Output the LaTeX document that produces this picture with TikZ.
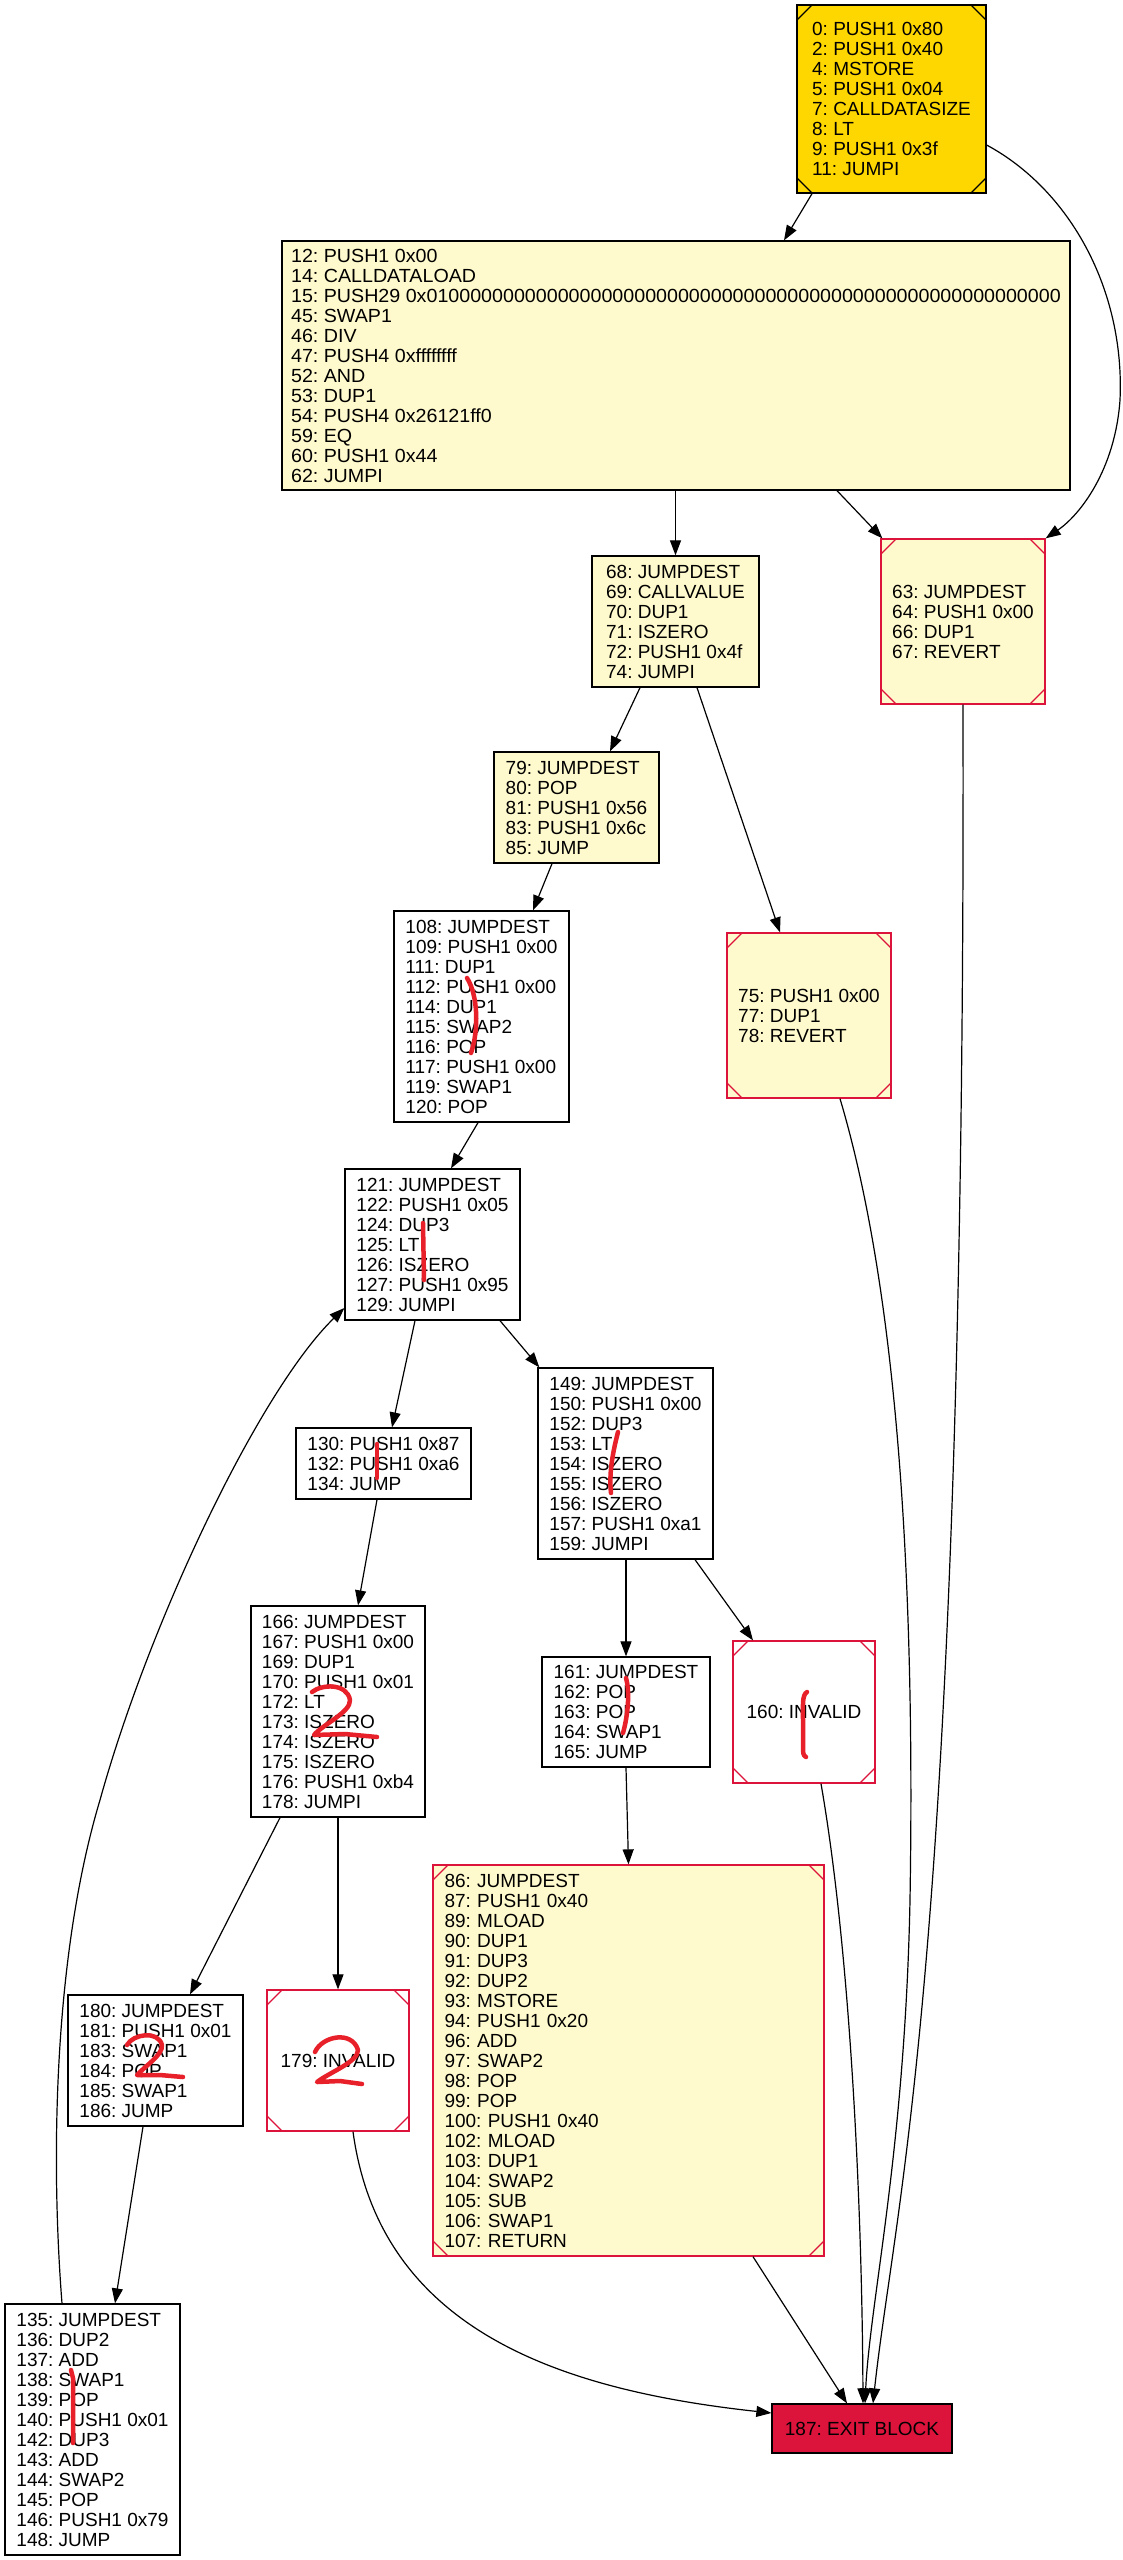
\documentclass[tikz,border=0pt]{standalone}
\usepackage{fontspec}
\setmainfont{Liberation Sans}
\usetikzlibrary{arrows.meta}
\definecolor{lemon}{HTML}{FFFACD}
\definecolor{goldfill}{HTML}{FFD700}
\definecolor{crim}{HTML}{DC143C}
\definecolor{pen}{HTML}{E8202A}
\frenchspacing

\begin{document}
\begin{tikzpicture}[x=1pt,y=-1pt,
  blk/.style={draw=black, line width=1.3pt, inner xsep=0pt, inner ysep=0pt,
              align=left, font=\fontsize{19}{20}\selectfont},
  wbox/.style={blk, fill=white},
  ybox/.style={blk, fill=lemon},
  msq/.style={blk, draw=#1, path picture={
     \draw[#1, line width=1.3pt]
       ([yshift=-15pt]path picture bounding box.north west) -- ([xshift=15pt]path picture bounding box.north west)
       ([xshift=-15pt]path picture bounding box.north east) -- ([yshift=-15pt]path picture bounding box.north east)
       ([yshift=15pt]path picture bounding box.south west) -- ([xshift=15pt]path picture bounding box.south west)
       ([xshift=-15pt]path picture bounding box.south east) -- ([yshift=15pt]path picture bounding box.south east);
  }},
  flow/.style={draw=black, line width=1.2pt, -{Triangle[length=15pt,width=11pt]}},
  pencil/.style={draw=pen, line width=4.5pt, line cap=round, line join=round}
]
\path[fill=white, use as bounding box] (0,0) rectangle (1123,2560);

% basic blocks
\node[msq=black, fill=goldfill, minimum width=189pt, minimum height=188pt] (n0) at (891.5,99)
  {0: PUSH1 0x80\\2: PUSH1 0x40\\4: MSTORE\\5: PUSH1 0x04\\7: CALLDATASIZE\\8: LT\\9: PUSH1 0x3f\\11: JUMPI};
\node[ybox, minimum width=788pt, minimum height=249pt,
      font=\fontsize{19}{20}\selectfont\addfontfeatures{FakeStretch=1.035}] (n12) at (676,365.5)
  {12: PUSH1 0x00\\14: CALLDATALOAD\\15: PUSH29 0x0100000000000000000000000000000000000000000000000000000000\\45: SWAP1\\46: DIV\\47: PUSH4 0xffffffff\\52: AND\\53: DUP1\\54: PUSH4 0x26121ff0\\59: EQ\\60: PUSH1 0x44\\62: JUMPI};
\node[ybox, minimum width=167pt, minimum height=131pt] (n68) at (675.5,621.5)
  {68: JUMPDEST\\69: CALLVALUE\\70: DUP1\\71: ISZERO\\72: PUSH1 0x4f\\74: JUMPI};
\node[msq=crim, fill=lemon, minimum width=164pt, minimum height=165pt] (n63) at (963,621.5)
  {63: JUMPDEST\\64: PUSH1 0x00\\66: DUP1\\67: REVERT};
\node[ybox, minimum width=165pt, minimum height=111pt] (n79) at (576.5,807.5)
  {79: JUMPDEST\\80: POP\\81: PUSH1 0x56\\83: PUSH1 0x6c\\85: JUMP};
\node[msq=crim, fill=lemon, minimum width=164pt, minimum height=165pt] (n75) at (809,1015.5)
  {75: PUSH1 0x00\\77: DUP1\\78: REVERT};
\node[wbox, minimum width=175pt, minimum height=211pt] (n108) at (481.5,1016.5)
  {108: JUMPDEST\\109: PUSH1 0x00\\111: DUP1\\112: PUSH1 0x00\\114: DUP1\\115: SWAP2\\116: POP\\117: PUSH1 0x00\\119: SWAP1\\120: POP};
\node[wbox, minimum width=175pt, minimum height=151pt] (n121) at (432.5,1244.5)
  {121: JUMPDEST\\122: PUSH1 0x05\\124: DUP3\\125: LT\\126: ISZERO\\127: PUSH1 0x95\\129: JUMPI};
\node[wbox, minimum width=175pt, minimum height=71pt] (n130) at (383.5,1463.5)
  {130: PUSH1 0x87\\132: PUSH1 0xa6\\134: JUMP};
\node[wbox, minimum width=175pt, minimum height=191pt] (n149) at (625.5,1463.5)
  {149: JUMPDEST\\150: PUSH1 0x00\\152: DUP3\\153: LT\\154: ISZERO\\155: ISZERO\\156: ISZERO\\157: PUSH1 0xa1\\159: JUMPI};
\node[wbox, minimum width=174pt, minimum height=211pt] (n166) at (338,1711.5)
  {166: JUMPDEST\\167: PUSH1 0x00\\169: DUP1\\170: PUSH1 0x01\\172: LT\\173: ISZERO\\174: ISZERO\\175: ISZERO\\176: PUSH1 0xb4\\178: JUMPI};
\node[wbox, minimum width=168pt, minimum height=110pt] (n161) at (626,1712)
  {161: JUMPDEST\\162: POP\\163: POP\\164: SWAP1\\165: JUMP};
\node[msq=crim, fill=white, minimum width=142pt, minimum height=142pt] (n160) at (804,1712)
  {160: INVALID};
\node[msq=crim, fill=lemon, minimum width=391pt, minimum height=391pt, text width=368pt, inner xsep=11.5pt] (n86) at (628.5,2060.5)
  {86: JUMPDEST\\87: PUSH1 0x40\\89: MLOAD\\90: DUP1\\91: DUP3\\92: DUP2\\93: MSTORE\\94: PUSH1 0x20\\96: ADD\\97: SWAP2\\98: POP\\99: POP\\100: PUSH1 0x40\\102: MLOAD\\103: DUP1\\104: SWAP2\\105: SUB\\106: SWAP1\\107: RETURN};
\node[wbox, minimum width=175pt, minimum height=131pt] (n180) at (155.5,2060.5)
  {180: JUMPDEST\\181: PUSH1 0x01\\183: SWAP1\\184: POP\\185: SWAP1\\186: JUMP};
\node[msq=crim, fill=white, minimum width=142pt, minimum height=141pt] (n179) at (338,2060.5)
  {179: INVALID};
\node[wbox, minimum width=175pt, minimum height=251pt] (n135) at (92.5,2429.5)
  {135: JUMPDEST\\136: DUP2\\137: ADD\\138: SWAP1\\139: POP\\140: PUSH1 0x01\\142: DUP3\\143: ADD\\144: SWAP2\\145: POP\\146: PUSH1 0x79\\148: JUMP};
\node[blk, fill=crim, minimum width=180pt, minimum height=49pt] (n187) at (862,2428.5)
  {187: EXIT BLOCK};

% control-flow edges
\draw[flow] ([xshift=-79.5pt]n0.south) -- ([xshift=108pt]n12.north);
\draw[flow] ([yshift=-46pt]n0.east) .. controls (1070,190) and (1125,290) .. (1120,400)
            .. controls (1115,470) and (1080,515) .. (n63.north east);
\draw[flow] (n68.north |- n12.south) -- (n68.north);
\draw[flow] ([xshift=161pt]n12.south) -- ([xshift=2pt]n63.north west);
\draw[flow] ([xshift=-35.5pt]n68.south) -- ([xshift=33.5pt]n79.north);
\draw[flow] ([xshift=21.5pt]n68.south) -- ([xshift=-29pt]n75.north);
\draw[flow] ([xshift=-24.5pt]n79.south) -- ([xshift=51.5pt]n108.north);
\draw[flow] ([xshift=-3.5pt]n108.south) -- ([xshift=18.5pt]n121.north);
\draw[flow] ([xshift=-17.5pt]n121.south) -- ([xshift=8.5pt]n130.north);
\draw[flow] ([xshift=67.5pt]n121.south) -- ([xshift=2pt]n149.north west);
\draw[flow] ([xshift=-6.5pt]n130.south) -- ([xshift=20pt]n166.north);
\draw[flow] (n161.north |- n149.south) -- (n161.north);
\draw[flow] ([xshift=69.5pt]n149.south) -- ([xshift=-51pt]n160.north);
\draw[flow] ([xshift=-58pt]n166.south) -- ([xshift=34.5pt]n180.north);
\draw[flow] (n166.south) -- (n179.north);
\draw[flow] (n161.south) -- (n86.north);
\draw[flow] ([xshift=-12.5pt]n180.south) -- ([xshift=22.5pt]n135.north);
\draw[flow] ([xshift=-30.5pt]n135.north) .. controls (50,2150) and (55,1950) .. (100,1800)
            .. controls (150,1620) and (260,1390) .. ([yshift=-63.5pt]n121.west);
\draw[flow] (n63.south) .. controls (966,1950) and (895,2200) .. ([xshift=11pt]n187.north);
\draw[flow] ([xshift=31pt]n75.south) .. controls (900,1300) and (915,1600) .. (910,1900)
            .. controls (905,2150) and (870,2300) .. ([xshift=3pt]n187.north);
\draw[flow] ([xshift=17pt]n160.south) .. controls (850,1950) and (862,2200) .. ([xshift=1pt]n187.north);
\draw[flow] ([xshift=124.5pt]n86.south) -- ([xshift=-15pt]n187.north);
\draw[flow] ([xshift=15pt]n179.south) .. controls (380,2330) and (560,2390) .. ([yshift=15.5pt]n187.west);

% red pen marks
\draw[pencil] (467,978) .. controls (478,995) and (479,1030) .. (471,1053);
\draw[pencil] (423,1223) -- (424,1280);
\draw[pencil] (377,1444) -- (377,1478);
\draw[pencil] (618,1432) .. controls (612,1455) and (609,1475) .. (611,1493);
\draw[pencil] (626,1678) .. controls (630,1692) and (628,1715) .. (623,1733);
\draw[pencil] (807,1692) .. controls (802,1695) and (803,1705) .. (803,1720) -- (803,1750)
              .. controls (803,1755) and (805,1757) .. (806,1757);
\draw[pencil] (312,1692) .. controls (322,1684) and (347,1683) .. (350,1700)
              .. controls (351,1712) and (322,1725) .. (314,1735) -- (345,1734) -- (377,1737);
\draw[pencil] (127,2045) .. controls (133,2034) and (158,2030) .. (162,2045)
              .. controls (163,2055) and (145,2066) .. (137,2075) -- (160,2075) -- (183,2077);
\draw[pencil] (315,2052) .. controls (322,2036) and (352,2030) .. (358,2050)
              .. controls (358,2062) and (330,2072) .. (317,2082) -- (340,2081) -- (362,2084);
\draw[pencil] (71,2370) -- (73,2378) -- (73,2443);
\end{tikzpicture}
\end{document}
